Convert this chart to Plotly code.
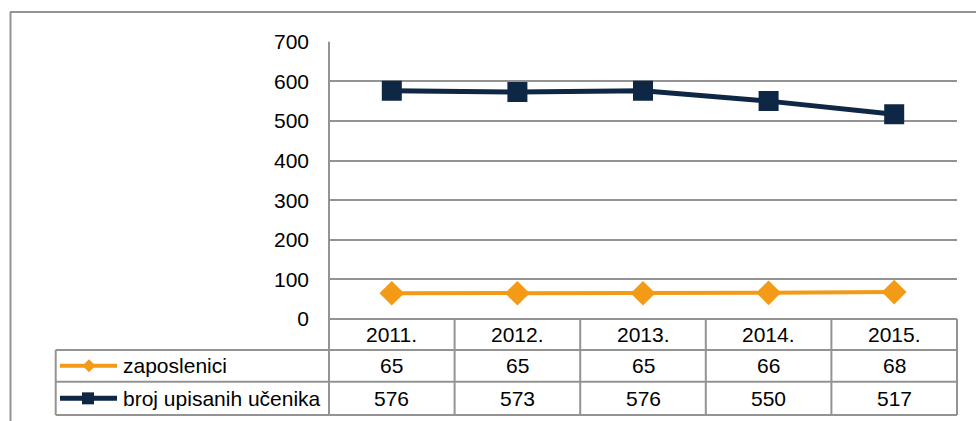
import plotly.graph_objects as go

W, H = 976, 421

years = ["2011.", "2012.", "2013.", "2014.", "2015."]
zaposlenici = [65, 65, 65, 66, 68]
ucenici = [576, 573, 576, 550, 517]
series_names = ["zaposlenici", "broj upisanih učenika"]
y_ticks = [0, 100, 200, 300, 400, 500, 600, 700]

ORANGE = "#f39b17"
NAVY = "#0d2744"
GRID = "#939393"
FONT = "Liberation Sans, Arial, sans-serif"
FS = 21

def py(pix):
    return 1 - pix / H

def px(pix):
    return pix / W

# layout geometry (pixels)
plot_l, plot_r = 329, 957
plot_t, plot_b = 41.7, 319
row1_b, row2_b, row3_b = 350, 381.7, 415
tbl_l = 55.7

xi = list(range(len(years)))

fig = go.Figure()
fig.add_trace(go.Scatter(
    x=xi, y=zaposlenici, mode="lines+markers", name=series_names[0],
    line=dict(color=ORANGE, width=4),
    marker=dict(symbol="diamond", size=19, color=ORANGE),
))
fig.add_trace(go.Scatter(
    x=xi, y=ucenici, mode="lines+markers", name=series_names[1],
    line=dict(color=NAVY, width=5),
    marker=dict(symbol="square", size=20, color=NAVY),
))

shapes = []
def hline(y, x0, x1):
    shapes.append(dict(type="line", xref="paper", yref="paper",
                       x0=px(x0), x1=px(x1), y0=py(y), y1=py(y),
                       line=dict(color=GRID, width=2)))
def vline(x, y0, y1):
    shapes.append(dict(type="line", xref="paper", yref="paper",
                       x0=px(x), x1=px(x), y0=py(y0), y1=py(y1),
                       line=dict(color=GRID, width=2)))

# outer frame
hline(12, 10, W)
vline(10.5, 12, H)

# table
hline(plot_b, plot_l, plot_r)
hline(row1_b, tbl_l, plot_r)
hline(row2_b, tbl_l, plot_r)
hline(row3_b, tbl_l, plot_r)
vline(plot_l, plot_t, row3_b)
vline(tbl_l, row1_b, row3_b)
col_w = (plot_r - plot_l) / len(years)
for i in range(1, len(years) + 1):
    vline(plot_l + i * col_w, plot_b, row3_b)

# legend keys
def key_line(yc, color, width):
    shapes.append(dict(type="line", xref="paper", yref="paper",
                       x0=px(60), x1=px(117), y0=py(yc), y1=py(yc),
                       line=dict(color=color, width=width)))
r2c = (row1_b + row2_b) / 2
r3c = (row2_b + row3_b) / 2
key_line(r2c, ORANGE, 4)
key_line(r3c, NAVY, 5)
cx, cy, s = 89, r2c, 6.5
shapes.append(dict(type="path", xref="paper", yref="paper",
                   path=f"M {px(cx-s)},{py(cy)} L {px(cx)},{py(cy-s)} L {px(cx+s)},{py(cy)} L {px(cx)},{py(cy+s)} Z",
                   fillcolor=ORANGE, line=dict(width=0)))
s = 6
shapes.append(dict(type="rect", xref="paper", yref="paper",
                   x0=px(88 - s), x1=px(88 + s), y0=py(r3c - s), y1=py(r3c + s),
                   fillcolor=NAVY, line=dict(width=0)))

annotations = []
r1c = (plot_b + row1_b) / 2
for i, yr in enumerate(years):
    for text, yc in ((yr, r1c), (str(zaposlenici[i]), r2c), (str(ucenici[i]), r3c)):
        annotations.append(dict(x=xi[i], y=py(yc), xref="x", yref="paper", text=text,
                                showarrow=False, xanchor="center", yanchor="middle"))
for name, yc in zip(series_names, [r2c, r3c]):
    annotations.append(dict(x=px(121), y=py(yc), xref="paper", yref="paper", text=name,
                            showarrow=False, xanchor="left", yanchor="middle"))

fig.update_layout(
    width=W, height=H, autosize=False,
    margin=dict(l=0, r=0, t=0, b=0, pad=0, autoexpand=False),
    paper_bgcolor="white", plot_bgcolor="white",
    showlegend=False,
    font=dict(family=FONT, size=FS, color="black"),
    xaxis=dict(domain=[px(plot_l), px(plot_r)],
               range=[-0.5, 4.5], showticklabels=False, showgrid=False,
               zeroline=False, showline=False, ticks="", automargin=False),
    yaxis=dict(domain=[py(plot_b), py(plot_t)], range=[0, 700],
               tickvals=y_ticks, ticks="", showgrid=True, gridcolor=GRID,
               gridwidth=2, zeroline=False, showline=False, automargin=False,
               ticklabelstandoff=19, tickfont=dict(size=FS, family=FONT, color="black")),
    shapes=shapes,
    annotations=annotations,
)

fig.write_html("out.html", config={"displayModeBar": False},
               post_script="document.body.style.margin='0';document.body.style.overflow='hidden';")
